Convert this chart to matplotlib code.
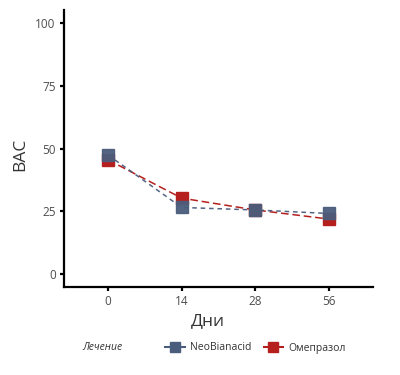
import matplotlib
matplotlib.use("Agg")
import matplotlib.pyplot as plt
from matplotlib.lines import Line2D

plt.rcParams['font.family'] = ['Open Sans', 'DejaVu Sans']

days = ["0", "14", "28", "56"]
neo = [47.4, 26.6, 25.6, 24.2]
omep = [45.5, 30.3, 25.6, 22.0]
groups = ["NeoBianacid", "Омепразол"]
colors = {"NeoBianacid": "#4b5d7c", "Омепразол": "#b5201f"}
yticks = [0, 25, 50, 75, 100]

fig = plt.figure(figsize=(4.0, 3.75), dpi=100)
ax = fig.add_axes([0.16, 0.2347, 0.7725, 0.7383])

x = list(range(1, len(days) + 1))
ax.plot(x, omep, color=colors["Омепразол"], lw=1.1, dashes=(5, 2.5),
        marker='s', ms=8, mec=colors["Омепразол"], mfc=colors["Омепразол"], zorder=3)
ax.plot(x, neo, color=colors["NeoBianacid"], lw=1.1, dashes=(3, 2.5), alpha=0.95,
        marker='s', ms=8, mec=colors["NeoBianacid"], mfc=colors["NeoBianacid"], zorder=4)

ax.set_xlim(0.4, 4.6)
ax.set_ylim(-5, 105)
ax.set_xticks(x)
ax.set_xticklabels(days)
ax.set_yticks(yticks)
ax.set_yticklabels([str(v) for v in yticks])
for s in ['top', 'right']:
    ax.spines[s].set_visible(False)
for s in ['left', 'bottom']:
    ax.spines[s].set_linewidth(1.6)
    ax.spines[s].set_color('black')
ax.tick_params(axis='both', length=3, width=1.6, color='black', labelsize=8.5,
               labelcolor='#4d4d4d', pad=3)
ax.set_xlabel("Дни", fontsize=12.5, color='#333333')
ax.set_ylabel("BAC", fontsize=12.5, color='#333333')
ax.xaxis.set_label_coords(0.466, -0.095)
ax.yaxis.set_label_coords(-0.115, 0.48)

fig.text(0.205, 0.072, "Лечение", fontsize=7.5, style='italic', color='#333333',
         ha='left', va='center')
handles = [Line2D([0], [0], color=colors[g], lw=1.5, marker='s', ms=7) for g in groups]
fig.legend(handles, groups, loc='center left', bbox_to_anchor=(0.413, 0.072),
           ncol=2, frameon=False, fontsize=7.5, handlelength=1.9, handletextpad=0.45,
           columnspacing=1.2, borderaxespad=0, borderpad=0,
           labelcolor='#333333')

fig.savefig("out.png", dpi=100, facecolor='white')
